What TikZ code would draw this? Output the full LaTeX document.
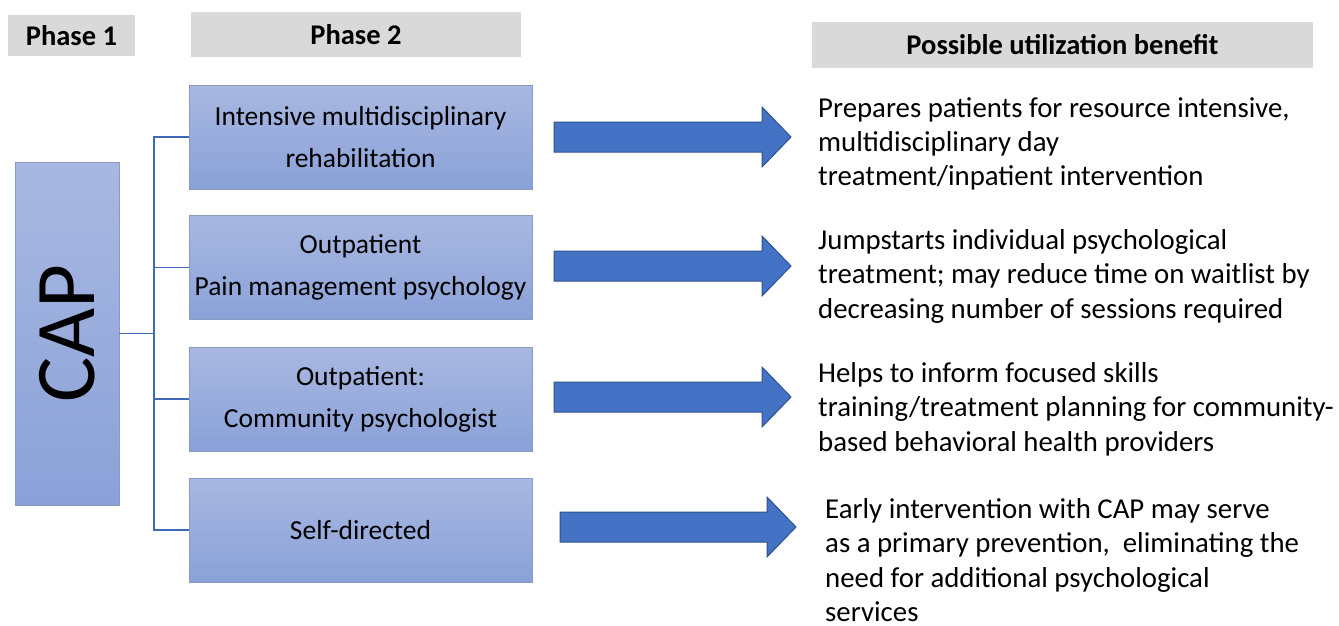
\documentclass[tikz,border=0pt]{standalone}
\usepackage{fontspec}
\usepackage{graphicx}
\setmainfont{Carlito}
\definecolor{hdrgray}{HTML}{D9D9D9}
\definecolor{boxtop}{HTML}{A9B8E1}
\definecolor{boxbot}{HTML}{8AA1D8}
\definecolor{boxline}{HTML}{8A9AC0}
\definecolor{linkblue}{HTML}{4068B8}
\definecolor{arrfill}{HTML}{4472C4}
\definecolor{arrline}{HTML}{2F528F}
\tikzset{
  header/.style={fill=hdrgray, draw=none, inner sep=0pt,
    font=\fontsize{28.5}{33}\selectfont\bfseries},
  phasebox/.style={top color=boxtop, bottom color=boxbot, draw=boxline,
    line width=0.8pt, minimum width=343pt, minimum height=104pt,
    inner sep=0pt, align=center, font=\fontsize{27.5}{42}\selectfont},
  benefit/.style={anchor=north west, inner sep=0pt, align=left,
    font=\fontsize{28.8}{34.4}\selectfont, execute at begin node=\strut},
  link/.style={draw=linkblue, line width=1.5pt},
  fatarrow/.style={fill=arrfill, draw=arrline, line width=1pt, line join=miter}
}
% block arrow: #1 = left x, #2 = centre y, #3 = tip x
\newcommand{\blockarrow}[3]{%
  \draw[fatarrow] (#1,#2-15) -- (#3-29,#2-15) -- (#3-29,#2-30) -- (#3,#2)
    -- (#3-29,#2+30) -- (#3-29,#2+15) -- (#1,#2+15) -- cycle;}
\begin{document}
\begin{tikzpicture}[x=1pt, y=-1pt]
  \useasboundingbox (0,0) rectangle (1339,625);

  % column headers
  \node[header, minimum width=127pt, minimum height=41pt] (h1) at (71.5,35.5) {Phase 1};
  \node[header, minimum width=330pt, minimum height=45pt] (h2) at (356,34.5) {Phase 2};
  \node[header, minimum width=501pt, minimum height=46pt] (h3) at (1062.5,45) {Possible utilization benefit};

  % phase 1
  \node[top color=boxtop, bottom color=boxbot, draw=boxline, line width=0.8pt,
        minimum width=104pt, minimum height=343pt, inner sep=0pt] (cap) at (67,333.5)
        {\rotatebox{90}{\fontsize{85}{90}\selectfont CAP}};

  % phase 2 options
  \node[phasebox] (p1) at (360.5,137)   {Intensive multidisciplinary\\rehabilitation};
  \node[phasebox] (p2) at (360.5,267.5) {Outpatient\\Pain management psychology};
  \node[phasebox] (p3) at (360.5,399)   {Outpatient:\\Community psychologist};
  \node[phasebox] (p4) at (360.5,530)   {Self-directed};

  % tree connector
  \coordinate (trunk) at (154,333.5);
  \draw[link] (cap.east) -- (trunk);
  \draw[link] (p1.west) -| (trunk) |- (p4.west);
  \draw[link] (trunk |- p2.west) -- (p2.west);
  \draw[link] (trunk |- p3.west) -- (p3.west);

  % arrows towards the benefits
  \blockarrow{554}{137}{791}
  \blockarrow{554}{266}{791}
  \blockarrow{554}{397}{791}
  \blockarrow{560}{527}{796}

  % benefits
  \node[benefit] (b1) at (818,97) {Prepares patients for resource intensive,\\multidisciplinary day\\treatment/inpatient intervention};
  \node[benefit] (b2) at (818,229) {Jumpstarts individual psychological\\treatment; may reduce time on waitlist by\\decreasing number of sessions required};
  \node[benefit] (b3) at (818,362) {Helps to inform focused skills\\training/treatment planning for community-\\based behavioral health providers};
  \node[benefit] (b4) at (825,498) {Early intervention with CAP may serve\\as a primary prevention,\ \ eliminating the\\need for additional psychological\\services};
\end{tikzpicture}
\end{document}
